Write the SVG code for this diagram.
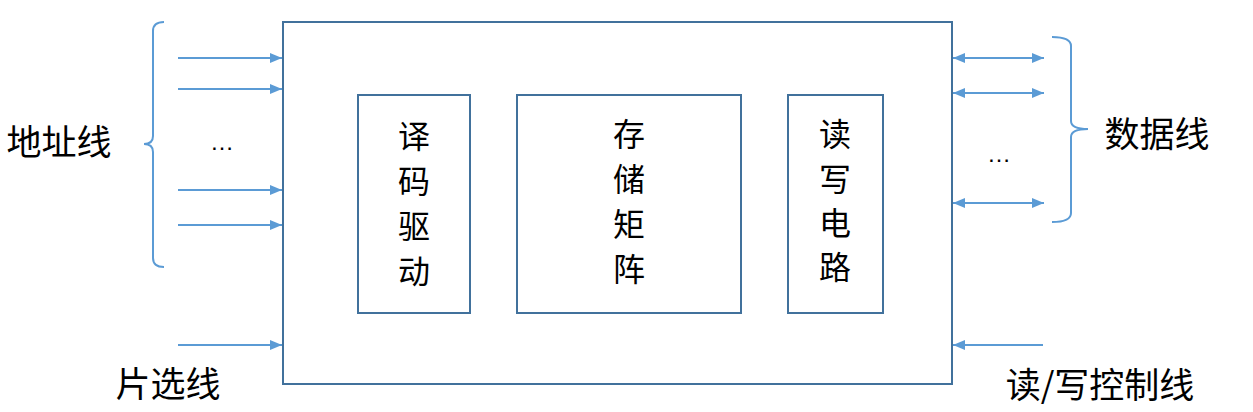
<svg xmlns="http://www.w3.org/2000/svg" width="1253" height="412" viewBox="0 0 1253 412">
<style>
.box{fill:#fff;stroke:#41719C;stroke-width:2}
.ln{stroke:#5B9BD5;stroke-width:2;fill:none}
.br{stroke:#5B9BD5;stroke-width:2;fill:none}
.t{font-family:"Noto Sans CJK SC","Liberation Sans",sans-serif;fill:#000;text-anchor:middle}
.in{font-size:32px}
.lb{font-size:35px}
.dots{font-family:"Liberation Sans",sans-serif;font-size:24px;text-anchor:middle;fill:#000}
</style>
<defs>
<marker id="ah" viewBox="0 0 12 10" markerWidth="12" markerHeight="10" refX="12" refY="5" orient="auto-start-reverse" markerUnits="userSpaceOnUse">
<path d="M0,0 L12,5 L0,10 z" fill="#5B9BD5"/>
</marker>
</defs>
<g id="chip">
<rect class="box" x="283" y="22" width="669" height="362"/>
</g>
<g id="decoder">
<rect class="box" x="358" y="95" width="112" height="218"/>
<text class="t in" x="414"><tspan x="414" y="148">译</tspan><tspan x="414" y="193">码</tspan><tspan x="414" y="238">驱</tspan><tspan x="414" y="283">动</tspan></text>
</g>
<g id="matrix">
<rect class="box" x="517" y="95" width="224" height="218"/>
<text class="t in" x="629"><tspan x="629" y="146">存</tspan><tspan x="629" y="191">储</tspan><tspan x="629" y="236">矩</tspan><tspan x="629" y="281">阵</tspan></text>
</g>
<g id="rw">
<rect class="box" x="788" y="95" width="95" height="218"/>
<text class="t in" x="835"><tspan x="835" y="146">读</tspan><tspan x="835" y="191">写</tspan><tspan x="835" y="235">电</tspan><tspan x="835" y="279">路</tspan></text>
</g>
<g id="addr">
<path class="br" d="M164,22 Q153,22 153,31 L153,136 Q153,144 144,144 Q153,144 153,152 L153,258 Q153,267 164,267"/>
<text class="t lb" x="59" y="155">地址线</text>
<text class="dots" x="222" y="150">…</text>
</g>
<g id="data">
<path class="br" d="M1052,37 Q1071,37 1071,46 L1071,121 Q1071,129 1088,129 Q1071,129 1071,137 L1071,213 Q1071,222 1052,222"/>
<text class="t lb" x="1157" y="147">数据线</text>
<text class="dots" x="999" y="162">…</text>
</g>
<g id="cs">
<text class="t lb" x="168" y="397">片选线</text>
</g>
<g id="rwctl">
<text class="t lb" x="1100" y="398">读/写控制线</text>
</g>
<g id="connectors">
<line class="ln" x1="178" y1="58" x2="282" y2="58" marker-end="url(#ah)"/>
<line class="ln" x1="178" y1="89" x2="282" y2="89" marker-end="url(#ah)"/>
<line class="ln" x1="178" y1="190" x2="282" y2="190" marker-end="url(#ah)"/>
<line class="ln" x1="178" y1="225" x2="282" y2="225" marker-end="url(#ah)"/>
<line class="ln" x1="178" y1="345" x2="282" y2="345" marker-end="url(#ah)"/>
<line class="ln" x1="953" y1="58" x2="1044" y2="58" marker-start="url(#ah)" marker-end="url(#ah)"/>
<line class="ln" x1="953" y1="93" x2="1044" y2="93" marker-start="url(#ah)" marker-end="url(#ah)"/>
<line class="ln" x1="953" y1="203" x2="1044" y2="203" marker-start="url(#ah)" marker-end="url(#ah)"/>
<line class="ln" x1="1043" y1="345" x2="953" y2="345" marker-end="url(#ah)"/>
</g>
</svg>
